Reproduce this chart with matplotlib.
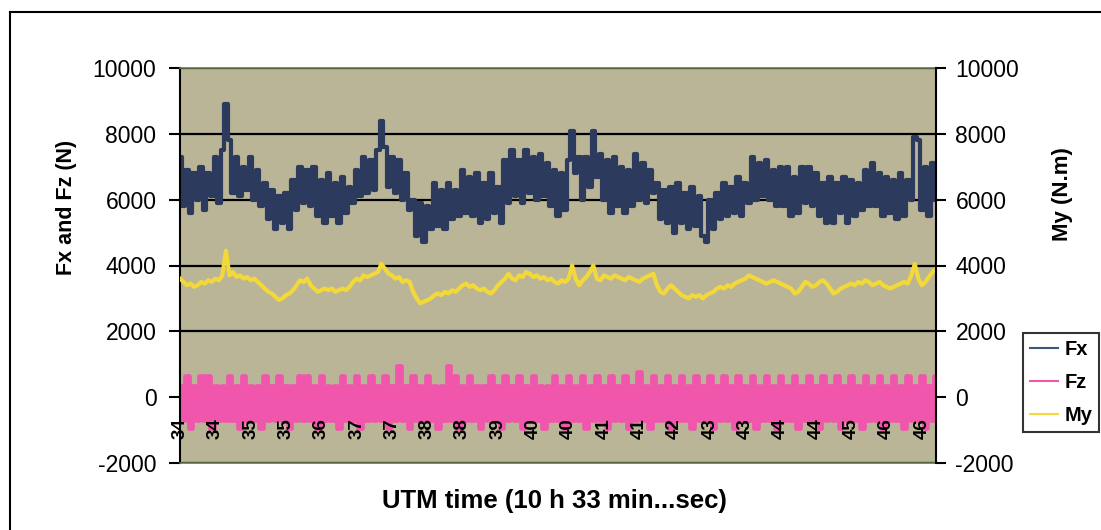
import numpy as np
import matplotlib
matplotlib.use('Agg')
import matplotlib.pyplot as plt
from matplotlib.lines import Line2D

plt.rcParams['axes.unicode_minus'] = False

# Fx (N), one value per sample
fx = [7300, 5800, 6900, 5600, 6800, 6000, 7000, 5700, 6800, 6100, 7300, 5900, 7500,
      8900,
      7800, 6200, 7300, 6100, 7000, 6300, 7300, 6000, 6900,
      5800, 6500, 5400, 6300, 5100, 6100, 5300, 6200, 5100, 6600,
      5700, 7000, 5900, 6900, 5800, 7000,
      5500, 6600, 5300, 6800, 5500, 6500, 5300, 6700, 5600, 6400,
      5900, 6900, 6100, 7300, 6200, 7200, 6300, 7500,
      8400, 7600,
      6400, 7300, 6200, 7200, 6000, 6800, 5700,
      6000, 4900, 5900, 4700, 5800, 5100,
      6500, 5200, 6300, 5100, 6500, 5400, 6300,
      5500, 6900, 5600, 6700, 5500, 6800, 5300, 6500, 5400, 6800, 5600, 6400,
      5300, 7200, 5900, 7500, 6100, 7200, 5900, 7500, 6200, 7300, 6000, 7400, 6100, 7100, 5800, 6900, 5500,
      6800, 5700, 7200,
      8100,
      6800, 7300, 6000, 7300, 6400,
      8100,
      6700,
      7400, 6000, 7200, 5600, 7300, 5800, 7000, 5600, 6900, 5800, 7400, 6000, 7100, 5900, 6900,
      6200, 6500, 5400, 6300, 5300, 6400, 5000, 6500, 5300, 6200, 5100, 6400, 5200, 6100, 4900, 4700,
      6000, 5100, 6200, 5400, 6500, 5500, 6400, 5600, 6700, 5500, 6500,
      5900, 7300, 6000, 7100, 6100, 7200, 6000, 6900, 5800, 7000, 5800, 7000, 5500, 6700, 5600, 7000,
      5900, 7000, 5800, 6800,
      5500, 6500, 5300, 6700, 5300, 6500, 5600, 6700, 5300, 6600, 5500, 6500, 5700, 6900, 5800, 7100,
      5800, 6800, 5500, 6700, 5600, 6600, 5400, 6800, 5500, 6600,
      6000, 7900, 7800,
      5700, 7000, 5500, 7100, 6000]

# Fz (N)
fz = [350, -700, 650, -950, 350, -700, 650, -700, 650, -950, 350, -700, 350, -700, 650, -700, 350, -950, 650, -700,
      350, -700, 350, -950, 650, -700, 350, -700, 650, -700, 350, -950, 350, -700, 650, -700, 650, -700, 350, -950,
      650, -700, 350, -700, 350, -950, 650, -700, 350, -700, 650, -950, 350, -700, 650, -700, 350, -700, 650, -950,
      350, -700, 950, -700, 350, -950, 650, -700, 350, -700, 650, -700, 350, -950, 350, -700, 950, -700, 650, -950,
      350, -700, 650, -700, 350, -950, 350, -700, 650, -700, 350, -950, 650, -700, 350, -700, 650, -950, 350, -700,
      650, -700, 350, -950, 350, -700, 650, -700, 350, -950, 650, -700, 350, -700, 650, -950, 350, -700, 650, -700,
      350, -950, 650, -700, 350, -700, 650, -950, 350, -700, 750, -700, 350, -950, 650, -700, 350, -700, 650, -950,
      350, -700, 650, -700, 350, -950, 650, -700, 350, -700, 650, -950, 350, -700, 650, -700, 350, -950, 650, -700,
      350, -700, 650, -950, 350, -700, 650, -700, 350, -950, 650, -700, 350, -700, 650, -950, 350, -700, 650, -700,
      350, -950, 650, -700, 350, -700, 650, -950, 350, -700, 650, -700, 350, -950, 650, -700, 350, -700, 650, -950,
      350, -700, 650, -700, 350, -950, 650, -700, 350, -700, 650, -950, 350, -700, 650]

# My (N.m), right axis
my = [3600, 3500, 3400, 3450, 3350, 3400, 3500, 3450, 3550, 3500, 3600, 3550, 3700,
      4450,
      3700, 3800, 3650, 3700, 3600, 3650, 3550, 3600, 3500,
      3400, 3300, 3200, 3150, 3050, 2950, 3000, 3100, 3150,
      3250, 3400, 3550, 3500, 3600, 3400, 3300,
      3200, 3250, 3300, 3250, 3300, 3200, 3250, 3300, 3250, 3350,
      3500, 3600, 3550, 3700, 3650, 3700, 3750, 3800,
      4050, 3900,
      3750, 3700, 3600, 3650, 3500, 3550, 3500,
      3200, 3000, 2850, 2900, 2950, 3000,
      3100, 3150, 3100, 3200, 3150, 3250, 3200,
      3300, 3400, 3450, 3350, 3400, 3300, 3250, 3300, 3200, 3150, 3250, 3400, 3500,
      3600, 3750, 3600, 3550, 3700, 3650, 3800, 3750, 3650, 3700, 3600, 3650, 3550, 3600, 3500, 3450, 3550,
      3500, 3600, 4000, 3600, 3400, 3550, 3650, 3800, 4000,
      3600, 3550, 3700, 3650, 3600, 3700, 3650, 3600, 3550, 3650, 3600, 3550, 3500, 3600, 3650, 3700, 3750,
      3400, 3200, 3150, 3300, 3400, 3300, 3200, 3100, 3050, 3000, 3100, 3050, 3100, 3000, 3100, 3150,
      3200, 3300, 3350, 3300, 3400, 3350, 3450, 3500, 3550, 3600, 3700,
      3650, 3600, 3550, 3500, 3450, 3500, 3550, 3500, 3450, 3400, 3350, 3300, 3150, 3200, 3350, 3500,
      3450, 3350, 3400,
      3500, 3550, 3450, 3300, 3150, 3200, 3300, 3350, 3400, 3450, 3400, 3500, 3450, 3550, 3500, 3400,
      3450, 3500, 3400, 3350, 3300, 3350, 3400, 3450, 3500, 3450,
      3700, 4050, 3600, 3400, 3500, 3650, 3800, 3900]

time_labels = ['34', '34', '35', '35', '36', '37', '37', '38', '38', '39', '40',
               '40', '41', '41', '42', '43', '43', '44', '44', '45', '46', '46']
label_every = 10

W, H = 1101, 530
fig = plt.figure(figsize=(W / 100, H / 100), dpi=100)
fig.patch.set_facecolor('white')

ax = fig.add_axes([180 / W, 67 / H, 756 / W, 395 / H])
ax.set_facecolor('#bab597')

x = np.arange(len(fx))
ax.plot(x, fz, color='#f056ac', lw=3.4, drawstyle='steps-mid', label='Fz', zorder=1.5)
ax.plot(x, fx, color='#2c3a5e', lw=3.0, drawstyle='steps-mid', label='Fx', zorder=1.6)

ax.set_xlim(0, len(fx) - 1)
ax.set_ylim(-2000, 10000)
ax.set_yticks(range(-2000, 10001, 2000))
ax.yaxis.grid(True, color='black', lw=1.6)
ax.set_axisbelow(True)
ax.xaxis.set_zorder(5)   # time labels are printed over the Fz trace

# category labels sit under the zero line like in Excel
ax.spines['bottom'].set_position(('data', 0))
ax.spines['bottom'].set_visible(False)
ax.set_xticks(x[::label_every][:len(time_labels)])
ax.set_xticklabels(time_labels, rotation=90, fontsize=13.5, fontweight='bold',
                   family='Liberation Sans')
ax.tick_params(axis='x', length=0, pad=15)
ax.axhline(-2000, color='#667a4a', lw=1.2, clip_on=False, zorder=5)
ax.spines['top'].set_color('#667a4a')
ax.spines['top'].set_linewidth(1.2)
ax.spines['left'].set_linewidth(1.5)
ax.spines['right'].set_visible(False)
ax.tick_params(axis='y', direction='out', length=8, width=1.5, pad=9,
               labelsize=16.5)
for t in ax.get_yticklabels():
    t.set_family('Liberation Sans')
ax.set_ylabel('Fx and Fz (N)', fontsize=15.5, fontweight='bold', family='Liberation Sans')
ax.yaxis.set_label_coords(-0.136, 0.648)

ax2 = ax.twinx()
ax2.plot(x, my, color='#f3d83a', lw=3.0, label='My')
ax2.set_ylim(-2000, 10000)
ax2.set_yticks(range(-2000, 10001, 2000))
for s in ['top', 'bottom', 'left']:
    ax2.spines[s].set_visible(False)
ax2.spines['right'].set_linewidth(1.5)
ax2.tick_params(axis='y', direction='out', length=7, width=1.5, pad=7,
                labelsize=16.5)
for t in ax2.get_yticklabels():
    t.set_family('Liberation Sans')
ax2.set_ylabel('My (N.m)', fontsize=16, fontweight='bold', family='Liberation Sans',
               rotation=90)
ax2.yaxis.set_label_coords(1.153, 0.682)

fig.text(554 / W, 1 - 501 / H, 'UTM time (10 h 33 min...sec)', ha='center', va='center',
         fontsize=18.5, fontweight='bold', family='Liberation Sans')

handles = [Line2D([], [], color='#3a5878', lw=1.5),
           Line2D([], [], color='#f056ac', lw=1.5),
           Line2D([], [], color='#f3d83a', lw=1.5)]
leg = fig.legend(handles, ['Fx', 'Fz', 'My'], loc='upper left',
                 bbox_to_anchor=(1023 / W, 1 - 333 / H), frameon=True, fancybox=False,
                 edgecolor='black', handlelength=1.4, handletextpad=0.3,
                 borderpad=0.35, labelspacing=0.7, borderaxespad=0,
                 prop={'family': 'Liberation Sans', 'weight': 'bold', 'size': 14.5})
leg.get_frame().set_linewidth(1.5)

# outer chart frame, partly cut off at right and bottom
fig.add_artist(Line2D([10 / W, 10 / W], [0, 1 - 12 / H], transform=fig.transFigure,
                      color='black', lw=1.5))
fig.add_artist(Line2D([10 / W, 1], [1 - 12 / H, 1 - 12 / H], transform=fig.transFigure,
                      color='black', lw=1.5))

fig.savefig('out.png', dpi=100)
